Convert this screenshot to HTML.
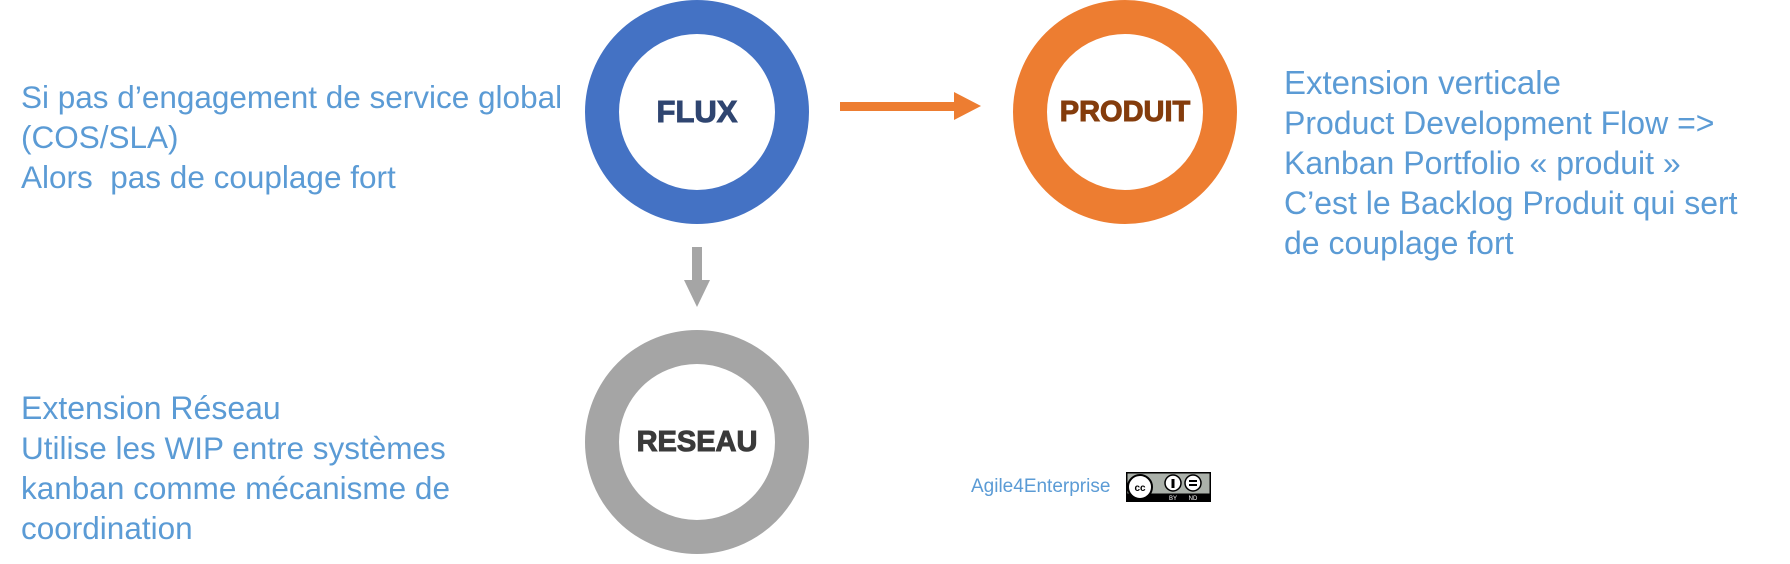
<!DOCTYPE html>
<html><head><meta charset="utf-8"><style>
body{margin:0;width:1790px;height:564px;background:#fff;position:relative;overflow:hidden;font-family:"Liberation Sans",sans-serif}
.t{position:absolute;color:#5B9BD5;font-size:31px;line-height:40px;white-space:nowrap}
.ring{position:absolute;width:224px;height:224px;border-radius:50%;box-sizing:border-box;border:34px solid}
.lbl{position:absolute;font-weight:bold;font-size:31px;text-align:center;width:224px;line-height:30px;-webkit-text-stroke:1px currentColor}
</style></head><body>
<div class="ring" style="left:585px;top:0;border-color:#4472C4"></div>
<div class="lbl" style="left:585px;top:97px;color:#2F4570">FLUX</div>
<div class="ring" style="left:1013px;top:0;border-color:#ED7D31"></div>
<div class="lbl" style="left:1013px;top:97px;color:#843C0C;font-size:29px">PRODUIT</div>
<div class="ring" style="left:585px;top:330px;border-color:#A5A5A5"></div>
<div class="lbl" style="left:585px;top:427px;color:#3A3A3A;font-size:29px">RESEAU</div>
<svg style="position:absolute;left:0;top:0" width="1790" height="564">
<rect x="840" y="102" width="116" height="9" fill="#ED7D31"/>
<polygon points="954,92 981,106 954,120" fill="#ED7D31"/>
<rect x="692" y="247" width="10" height="34" fill="#A5A5A5"/>
<polygon points="684,280 710,280 697,307" fill="#A5A5A5"/>
</svg>
<div class="t" style="left:21px;top:77px;font-size:31.5px">Si pas d’engagement de service global<br>(COS/SLA)<br>Alors&nbsp; pas de couplage fort</div>
<div class="t" style="left:1284px;top:63px;font-size:32px"><span style="font-size:33px">Extension verticale</span><br>Product Development Flow =&gt;<br>Kanban Portfolio « produit »<br>C’est le Backlog Produit qui sert<br>de couplage fort</div>
<div class="t" style="left:21px;top:388px;font-size:31.5px"><span style="font-size:32px">Extension Réseau</span><br>Utilise les WIP entre systèmes<br>kanban comme mécanisme de<br>coordination</div>
<div class="t" style="left:971px;top:475px;font-size:19px;line-height:24px">Agile4Enterprise</div>
<svg style="position:absolute;left:1126px;top:472px" width="85" height="30">
<rect x="0" y="0" width="85" height="30" fill="#000"/>
<rect x="1.5" y="1.5" width="82" height="20" fill="#ABB1AA"/>
<circle cx="14" cy="15" r="12" fill="#fff" stroke="#000" stroke-width="2"/>
<text x="14" y="19" font-size="10" font-weight="bold" text-anchor="middle" font-family="Liberation Sans">cc</text>
<circle cx="47" cy="11" r="8" fill="#fff" stroke="#000" stroke-width="1.5"/>
<rect x="45.5" y="7" width="3" height="9" fill="#000"/>
<circle cx="67" cy="11" r="8" fill="#fff" stroke="#000" stroke-width="1.5"/>
<rect x="63" y="8" width="8" height="2" fill="#000"/><rect x="63" y="12" width="8" height="2" fill="#000"/>
<text x="47" y="28" font-size="6" fill="#fff" text-anchor="middle" font-family="Liberation Sans">BY</text>
<text x="67" y="28" font-size="6" fill="#fff" text-anchor="middle" font-family="Liberation Sans">ND</text>
</svg>
</body></html>
